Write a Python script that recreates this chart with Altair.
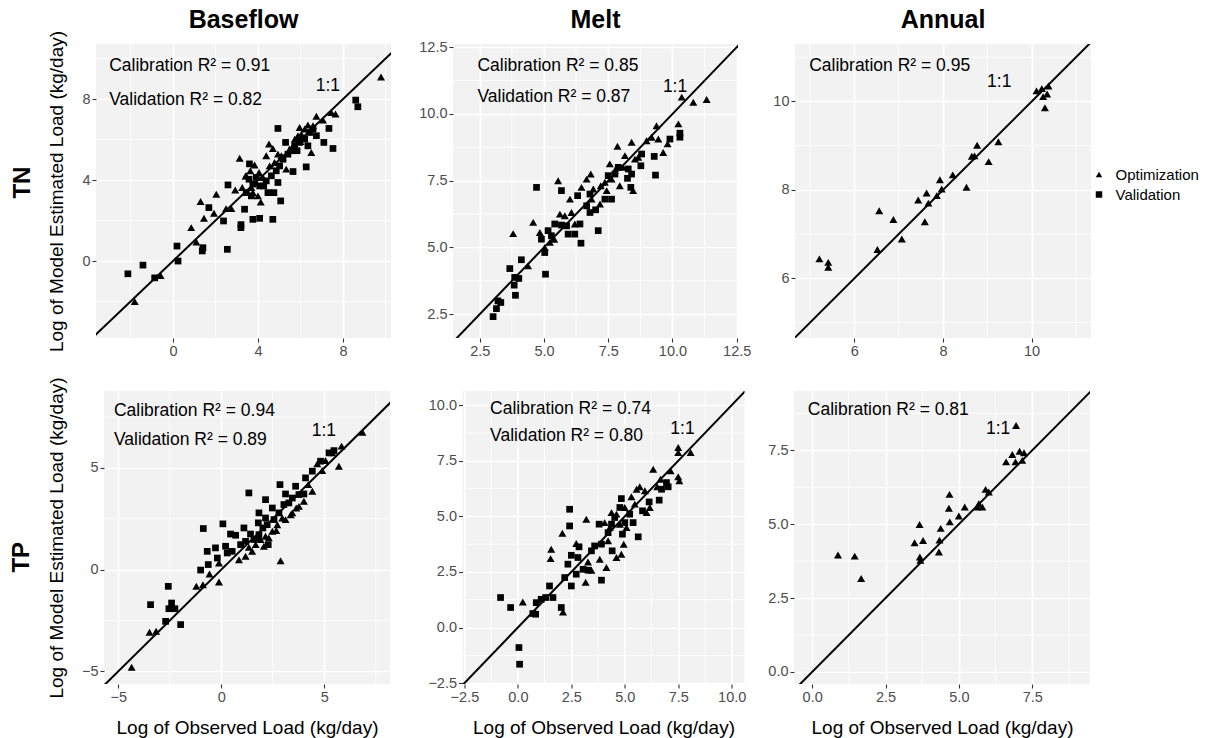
import altair as alt
import pandas as pd

FONT = "Liberation Sans"
BG = "#F2F2F2"
TYPES = ["Optimization", "Validation"]

# ---------------- TN Baseflow ----------------
tn_base_opt_x = [-1.8, -0.58, 0.86, 1.1, 1.3, 1.46, 1.93, 2.04, 2.5, 2.75, 2.93, 3.14, 3.26, 3.42, 3.84,
                 4.13, 4.52, 4.7, 5.1, 5.33, 5.96, 6.35, 6.75, 7.06, 7.45, 7.65, 6.51, 6.0, 3.45, 3.64,
                 4.05, 4.24, 3.92, 3.69, 4.39, 4.55, 4.78, 4.94, 5.15, 5.49, 5.65, 5.73, 5.88, 6.04,
                 6.20, 6.59, 3.76, 4.0, 9.79]
tn_base_opt_y = [-2.0, -0.71, 1.65, 0.94, 2.94, 2.11, 2.36, 3.3, 2.59, 2.59, 3.51, 5.08, 3.63, 4.2, 4.74,
                 2.92, 5.78, 5.56, 5.2, 4.54, 6.6, 6.72, 7.15, 6.96, 7.34, 7.26, 5.36, 5.9, 4.21, 4.46,
                 4.37, 4.13, 3.88, 3.63, 5.20, 4.70, 4.87, 5.28, 5.12, 5.53, 5.69, 6.02, 6.19, 6.27,
                 6.52, 6.68, 3.38, 3.22, 9.09]
tn_base_val_x = [-2.12, -1.41, -0.86, 0.19, 0.24, 1.38, 1.41, 1.69, 2.38, 2.56, 2.59, 3.37, 3.2, 3.2, 3.6,
                 3.76, 4.08, 4.7, 4.94, 5.07, 4.94, 4.75, 5.3, 5.65, 5.84, 6.27, 6.35, 6.75, 7.34, 7.53,
                 7.1, 8.6, 8.7, 3.58, 3.76, 3.92, 4.08, 4.27, 4.39, 4.63, 4.86, 5.02, 5.18, 5.41, 5.57,
                 5.73, 5.96, 6.20, 6.43, 6.59, 3.69, 3.45, 4.47]
tn_base_val_y = [-0.63, -0.2, -0.83, 0.74, 0.0, 0.5, 0.66, 2.64, 1.98, 0.58, 3.76, 2.56, 1.8, 1.65, 4.8,
                 2.06, 2.11, 2.06, 6.55, 2.97, 3.88, 3.38, 5.86, 4.42, 5.45, 4.65, 5.69, 6.19, 6.55, 5.56,
                 5.86, 7.95, 7.62, 4.04, 3.80, 4.13, 3.71, 3.71, 3.96, 4.21, 4.46, 4.70, 5.03, 5.28, 5.45,
                 5.69, 5.86, 6.02, 6.35, 6.52, 3.22, 3.38, 3.38]

# ---------------- TN Melt ----------------
tn_melt_opt_x = [3.8, 4.38, 4.58, 4.84, 5.03, 5.40, 5.55, 5.62, 6.01, 6.2, 6.46, 6.66, 6.82, 6.92, 7.21,
                 7.56, 7.63, 7.86, 7.95, 8.15, 8.41, 8.47, 8.67, 8.99, 9.19, 9.38, 9.45, 9.64, 9.81,
                 10.23, 10.36, 10.81, 11.33, 7.37, 7.44, 7.76, 8.08, 8.54, 7.18, 6.85, 6.07, 5.23, 5.81]
tn_melt_opt_y = [5.52, 4.31, 5.94, 5.56, 5.0, 5.31, 7.5, 6.25, 6.81, 5.88, 7.25, 7.56, 7.75, 7.19, 7.31,
                 8.13, 7.56, 8.79, 7.31, 8.44, 8.94, 7.13, 8.38, 9.0, 9.13, 9.56, 9.06, 8.56, 8.88,
                 9.63, 10.63, 10.44, 10.54, 7.44, 7.13, 7.88, 8.0, 8.31, 6.63, 6.81, 6.31, 5.19, 6.19]
tn_melt_val_x = [3.02, 3.15, 3.21, 3.32, 3.67, 3.84, 3.86, 3.89, 4.02, 4.12, 4.71, 5.06, 5.03, 4.90, 5.16,
                 5.42, 5.68, 5.68, 5.94, 6.2, 6.4, 6.44, 6.31, 6.79, 7.01, 6.79, 7.11, 7.37, 7.63, 7.76,
                 7.5, 7.89, 8.25, 8.41, 8.77, 8.8, 9.29, 9.34, 9.9, 10.29, 10.29, 8.38, 8.28, 6.66,
                 5.88, 5.29]
tn_melt_val_y = [2.41, 2.71, 3.0, 2.94, 4.21, 3.59, 3.88, 3.21, 3.84, 4.54, 7.25, 4.0, 4.81, 5.31, 5.63,
                 5.88, 5.84, 7.13, 5.5, 5.5, 5.88, 5.16, 6.94, 6.31, 6.41, 7.0, 5.63, 6.81, 6.81, 7.75,
                 7.69, 8.0, 7.59, 7.75, 8.06, 8.5, 8.41, 7.71, 9.06, 9.13, 9.28, 7.25, 7.94, 6.56,
                 5.81, 5.44]

# ---------------- TN Annual ----------------
tn_ann_opt_x = [5.21, 5.41, 5.41, 6.52, 6.56, 6.88, 7.07, 7.44, 7.59, 7.63, 7.67, 7.86, 7.93, 7.97, 8.22,
                8.53, 8.65, 8.71, 8.77, 9.03, 9.25, 10.11, 10.23, 10.26, 10.30, 10.35, 10.38]
tn_ann_opt_y = [6.44, 6.36, 6.25, 6.65, 7.53, 7.33, 6.89, 7.77, 7.28, 7.93, 7.70, 7.87, 8.23, 8.02, 8.34,
                8.06, 8.76, 8.77, 9.01, 8.64, 9.09, 10.24, 10.29, 10.11, 9.86, 10.17, 10.35]
tn_ann_val_x = []
tn_ann_val_y = []

# ---------------- TP Baseflow ----------------
tp_base_opt_x = [-4.35, -3.48, -3.16, -1.21, -0.89, -0.57, -0.11, -0.11, 0.86, 1.34, 1.75, 2.07, 2.31,
                 2.67, 2.88, 2.96, 3.45, 3.64, 4.22, 4.66, 4.9, 5.06, 5.71, 5.84, 5.39, 6.85, 1.18, 1.5,
                 1.67, 1.91, 2.15, 2.48, 2.72, 3.12, 3.37, 3.77, 4.01, 4.42]
tp_base_opt_y = [-4.80, -3.08, -3.03, -0.82, -0.74, -0.21, -0.61, 0.33, 0.49, 1.10, 1.56, 1.15, 1.56,
                 1.92, 0.44, 2.54, 2.79, 3.03, 4.18, 5.2, 4.87, 5.36, 5.08, 6.07, 5.74, 6.75, 0.66, 0.9,
                 1.23, 1.48, 1.64, 1.89, 2.21, 2.46, 2.70, 3.11, 3.36, 3.85]
tp_base_val_x = [-3.43, -2.57, -2.70, -2.41, -2.54, -2.25, -1.97, -0.87, -1.0, -0.68, -0.63, -0.28, -0.19,
                 0.08, 0.21, 0.29, 0.45, 0.7, 0.53, 1.34, 1.1, 1.42, 2.15, 2.28, 2.15, 2.85, 3.12, 3.28,
                 3.61, 4.01, 4.09, 4.42, 4.82, 5.23, 5.47, 1.8, 1.83, 2.48, 1.59, 1.83, 2.02, 2.23, 2.56,
                 2.8, 3.04, 3.45, 3.77, 0.94, 1.18]
tp_base_val_y = [-1.72, -0.82, -2.54, -1.64, -1.92, -1.92, -2.70, 2.02, -0.02, 0.90, 0.25, 1.07, 0.57,
                 2.25, 1.15, 0.82, 1.75, 1.69, 0.9, 3.77, 2.05, 1.75, 3.44, 1.23, 2.54, 4.18, 3.72, 3.28,
                 4.10, 3.72, 4.51, 4.84, 5.33, 5.74, 5.85, 2.3, 2.79, 3.03, 1.48, 1.72, 2.05, 2.21, 2.46,
                 2.79, 3.20, 3.52, 3.69, 1.23, 1.39]

# ---------------- TP Melt ----------------
tp_melt_opt_x = [0.23, 2.11, 2.08, 1.56, 1.53, 2.73, 3.2, 3.17, 3.28, 3.44, 3.83, 4.14, 4.22, 4.61, 4.84,
                 4.95, 4.61, 4.77, 5.0, 5.31, 5.55, 5.70, 5.94, 6.02, 6.17, 6.33, 6.52, 6.67, 7.14, 7.5,
                 7.55, 7.5, 7.5, 8.08, 4.06, 4.3, 5.47, 5.08, 4.38]
tp_melt_opt_y = [1.15, 0.7, 4.24, 3.52, 3.10, 3.78, 4.87, 2.04, 2.95, 2.58, 3.07, 2.7, 3.9, 3.15, 3.3,
                 3.75, 5.1, 4.65, 5.4, 5.88, 6.22, 6.33, 6.15, 5.17, 5.40, 7.12, 6.33, 6.67, 7.05, 6.78,
                 6.6, 8.1, 7.87, 7.87, 4.72, 4.5, 5.55, 4.5, 5.17]
tp_melt_val_x = [-0.81, -0.34, 0.05, 0.08, 0.7, 0.83, 0.86, 1.09, 1.3, 1.48, 1.64, 2.03, 2.19, 2.34, 2.42,
                 2.42, 2.5, 2.5, 2.81, 2.86, 2.73, 3.05, 3.28, 3.44, 3.59, 3.8, 3.91, 3.91, 4.41, 4.22,
                 4.38, 4.84, 4.89, 5.0, 5.23, 5.39, 5.63, 5.83, 6.14, 6.61, 6.72, 6.95, 7.03, 4.77, 4.53]
tp_melt_val_y = [1.35, 0.9, -0.9, -1.65, 0.63, 0.6, 1.12, 1.27, 1.35, 1.87, 1.35, 0.9, 2.25, 2.85, 5.32,
                 4.57, 1.87, 3.25, 3.15, 3.63, 2.40, 2.62, 2.58, 3.45, 3.67, 4.65, 3.75, 2.13, 3.45, 4.27,
                 4.65, 5.80, 4.2, 4.72, 5.10, 4.72, 4.08, 5.25, 5.65, 5.73, 6.22, 6.52, 6.33, 5.4, 4.95]

# ---------------- TP Annual ----------------
tp_ann_opt_x = [0.88, 1.45, 1.67, 3.49, 3.66, 3.67, 3.69, 3.78, 4.32, 4.38, 4.34, 4.66, 4.68, 4.69, 5.0,
                5.20, 5.63, 5.68, 5.8, 5.91, 6.02, 6.61, 6.82, 6.95, 6.93, 7.07, 7.16, 7.22]
tp_ann_opt_y = [3.96, 3.92, 3.16, 4.37, 4.99, 3.89, 3.78, 4.45, 4.06, 4.86, 4.46, 5.54, 6.01, 5.08, 5.28,
                5.58, 5.58, 5.69, 5.58, 6.18, 6.09, 7.11, 7.36, 8.34, 7.11, 7.47, 7.16, 7.42]
tp_ann_val_x = []
tp_ann_val_y = []

# annotation texts
r2_labels = {
    "tn_base": ["Calibration R\u00b2 = 0.91", "Validation R\u00b2 = 0.82"],
    "tn_melt": ["Calibration R\u00b2 = 0.85", "Validation R\u00b2 = 0.87"],
    "tn_ann": ["Calibration R\u00b2 = 0.95"],
    "tp_base": ["Calibration R\u00b2 = 0.94", "Validation R\u00b2 = 0.89"],
    "tp_melt": ["Calibration R\u00b2 = 0.74", "Validation R\u00b2 = 0.80"],
    "tp_ann": ["Calibration R\u00b2 = 0.81"],
}

XTITLE = "Log of Observed Load (kg/day)"
YTITLE = "Log of Model Estimated Load (kg/day)"


def make_axis(values, fmt, title):
    return alt.Axis(values=values, format=fmt, title=title, grid=True, gridColor="white",
                    gridWidth=1.6, domain=False, tickSize=4, tickColor="#333333", tickWidth=1.1,
                    labelColor="#4D4D4D", labelFontSize=14.5, labelFont=FONT, labelPadding=2,
                    labelOverlap=False, labelFlush=False, titleFont=FONT, titleFontSize=19,
                    titleFontWeight="normal", titleColor="black", titlePadding=15)


def panel(opt_x, opt_y, val_x, val_y, xdom, ydom, xmaj, ymaj, xminor, yminor, fmt, w, h,
          labels, text_x, text_ys, one_xy, col_title=None, title_offset=11, ytitle=None,
          xtitle=None, legend=False):
    pts = pd.DataFrame({"x": opt_x + val_x, "y": opt_y + val_y,
                        "type": ["Optimization"] * len(opt_x) + ["Validation"] * len(val_x)})
    xs = alt.Scale(domain=xdom, nice=False, zero=False)
    ys = alt.Scale(domain=ydom, nice=False, zero=False)
    xax = make_axis(xmaj, fmt, xtitle)
    yax = make_axis(ymaj, fmt, ytitle)

    mx = alt.Chart(pd.DataFrame({"v": xminor})).mark_rule(color="white", strokeWidth=0.8).encode(
        x=alt.X("v:Q", scale=xs, axis=xax))
    my = alt.Chart(pd.DataFrame({"v": yminor})).mark_rule(color="white", strokeWidth=0.8).encode(
        y=alt.Y("v:Q", scale=ys, axis=yax))

    if legend:
        leg = alt.Legend(title=None, orient="none", legendX=296.5, legendY=123, labelFont=FONT,
                         labelFontSize=15, labelColor="black", symbolSize=42,
                         symbolFillColor="black", symbolStrokeColor="black", symbolStrokeWidth=0,
                         labelOffset=9, rowPadding=4, padding=0)
    else:
        leg = None
    points = alt.Chart(pts).mark_point(filled=True, opacity=1, color="black", strokeWidth=0).encode(
        x=alt.X("x:Q", scale=xs, axis=xax),
        y=alt.Y("y:Q", scale=ys, axis=yax),
        shape=alt.Shape("type:N", scale=alt.Scale(domain=TYPES, range=["triangle-up", "square"]),
                        legend=leg),
        size=alt.condition(alt.datum.type == "Optimization", alt.value(64), alt.value(45)),
    )
    lo = min(xdom[0], ydom[0])
    hi = max(xdom[1], ydom[1])
    line = alt.Chart(pd.DataFrame({"v": [lo, hi]})).mark_line(color="black", strokeWidth=2,
                                                               clip=True).encode(
        x=alt.X("v:Q", scale=xs, axis=xax), y=alt.Y("v:Q", scale=ys, axis=yax))
    tdf = pd.DataFrame({"x": [text_x] * len(labels), "y": text_ys[:len(labels)], "t": labels})
    texts = alt.Chart(tdf).mark_text(align="left", baseline="middle", fontSize=17.5, font=FONT,
                                     color="black").encode(
        x=alt.X("x:Q", scale=xs, axis=xax), y=alt.Y("y:Q", scale=ys, axis=yax), text="t:N")
    odf = pd.DataFrame({"x": [one_xy[0]], "y": [one_xy[1]], "t": ["1:1"]})
    one = alt.Chart(odf).mark_text(align="center", baseline="middle", fontSize=17.5, font=FONT,
                                   color="black").encode(
        x=alt.X("x:Q", scale=xs, axis=xax), y=alt.Y("y:Q", scale=ys, axis=yax), text="t:N")

    ch = alt.layer(mx, my, points, line, texts, one)
    if col_title:
        ch = ch.properties(width=w, height=h,
                           title=alt.TitleParams(col_title, font=FONT, fontSize=25, fontWeight="bold",
                                                 color="black", anchor="middle", frame="group",
                                                 offset=title_offset))
    else:
        ch = ch.properties(width=w, height=h)
    return ch


p1 = panel(tn_base_opt_x, tn_base_opt_y, tn_base_val_x, tn_base_val_y,
           [-3.62, 10.26], [-3.80, 10.72], [0, 4, 8], [0, 4, 8], [-2, 2, 6, 10], [-2, 2, 6, 10],
           "d", 295, 294, r2_labels["tn_base"], -3.0, [9.65, 7.95], [7.29, 8.66],
           col_title="Baseflow", title_offset=-3, ytitle=YTITLE)
p2 = panel(tn_melt_opt_x, tn_melt_opt_y, tn_melt_val_x, tn_melt_val_y,
           [1.46, 12.55], [1.61, 12.62], [2.5, 5.0, 7.5, 10.0, 12.5], [2.5, 5.0, 7.5, 10.0, 12.5],
           [3.75, 6.25, 8.75, 11.25], [3.75, 6.25, 8.75, 11.25],
           ".1f", 285, 294, r2_labels["tn_melt"], 2.41, [11.81, 10.63], [10.1, 11.0],
           col_title="Melt", title_offset=6)
p3 = panel(tn_ann_opt_x, tn_ann_opt_y, tn_ann_val_x, tn_ann_val_y,
           [4.66, 11.34], [4.65, 11.30], [6, 8, 10], [6, 8, 10], [5, 7, 9, 11], [5, 7, 9, 11],
           "d", 296, 294, r2_labels["tn_ann"], 4.98, [10.81], [9.27, 10.43],
           col_title="Annual", title_offset=11, legend=True)
p4 = panel(tp_base_opt_x, tp_base_opt_y, tp_base_val_x, tp_base_val_y,
           [-5.69, 8.19], [-5.62, 8.78], [-5, 0, 5], [-5, 0, 5], [-2.5, 2.5, 7.5], [-2.5, 2.5, 7.5],
           "d", 286, 293, r2_labels["tp_base"], -5.21, [7.79, 6.39], [4.98, 6.8],
           ytitle=YTITLE, xtitle=XTITLE)
p5 = panel(tp_melt_opt_x, tp_melt_opt_y, tp_melt_val_x, tp_melt_val_y,
           [-2.59, 10.6], [-2.54, 10.64], [-2.5, 0.0, 2.5, 5.0, 7.5, 10.0],
           [-2.5, 0.0, 2.5, 5.0, 7.5, 10.0], [-1.25, 1.25, 3.75, 6.25, 8.75],
           [-1.25, 1.25, 3.75, 6.25, 8.75],
           ".1f", 282, 293, r2_labels["tp_melt"], -1.30, [9.82, 8.62], [7.7, 8.92],
           xtitle=XTITLE)
p6 = panel(tp_ann_opt_x, tp_ann_opt_y, tp_ann_val_x, tp_ann_val_y,
           [-0.62, 9.47], [-0.41, 9.51], [0.0, 2.5, 5.0, 7.5], [0.0, 2.5, 5.0, 7.5],
           [1.25, 3.75, 6.25, 8.75], [1.25, 3.75, 6.25, 8.75],
           ".1f", 296, 293, r2_labels["tp_ann"], -0.15, [8.85], [6.34, 8.24],
           xtitle=XTITLE)


def row_title(t):
    return alt.TitleParams(t, orient="left", anchor="middle", font=FONT, fontSize=24,
                           fontWeight="bold", color="black", offset=13)


def spacer():
    return alt.Chart(pd.DataFrame({"a": [0]})).mark_point(opacity=0, size=0).encode(
        x=alt.value(0), y=alt.value(0)).properties(
        width=1, height=1, view=alt.ViewBackground(fillOpacity=0, strokeOpacity=0))


row1 = alt.hconcat(
    alt.hconcat(p1, p2, spacing=26).resolve_scale(shape="independent"),
    p3, spacing=21, title=row_title("TN")).resolve_scale(shape="independent")
row2 = alt.hconcat(
    alt.hconcat(p4, p5, spacing=36.5).resolve_scale(shape="independent"),
    p6, spacing=21, title=row_title("TP")).resolve_scale(shape="independent")

chart = alt.concat(spacer(), row1, spacer(), row2, columns=2, align="none",
                   spacing={"row": 18, "column": 0}).resolve_scale(
    shape="independent").properties(
    padding={"left": 9, "top": 7, "right": 5, "bottom": 5}, background="white"
).configure_view(fill=BG, stroke=None)

chart.save("out.html", embed_options={"renderer": "svg", "actions": False})
